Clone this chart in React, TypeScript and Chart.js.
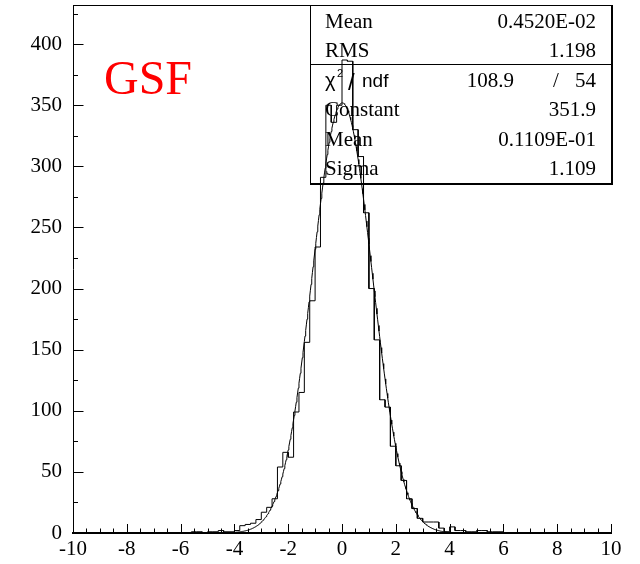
import React, { useEffect, useRef } from "react";
import { Chart, registerables } from "chart.js";

Chart.register(...registerables);

// Histogram definition: 100 bins of width 0.2 over [-10, 10]
const X_MIN = -10;
const X_MAX = 10;
const BIN_WIDTH = 0.2;
const Y_MAX = 432;

// bin counts, bin i covers [-10 + 0.2 i, -9.8 + 0.2 i]
const counts: number[] = [
  0, 0, 0, 0, 0, 0, 0, 0, 0, 0,
  0, 0, 0, 0, 0, 0, 0, 0, 0, 0,
  0, 0, 1, 1, 0, 1, 1, 2, 1, 1,
  2, 6, 7, 8, 11, 17, 21, 28, 54, 66,
  62, 99, 115, 156, 190, 234, 291, 350, 336, 350,
  387, 386, 330, 308, 262, 200, 158, 109, 103, 71,
  55, 43, 28, 20, 12, 9, 9, 9, 4, 1,
  5, 2, 2, 1, 1, 2, 2, 1, 1, 1,
  0, 0, 0, 0, 0, 0, 0, 0, 0, 0,
  0, 0, 0, 0, 0, 0, 0, 0, 0, 0,
];

const xTickValues = [-10, -8, -6, -4, -2, 0, 2, 4, 6, 8, 10];
const yTickValues = [0, 50, 100, 150, 200, 250, 300, 350, 400];

// Gaussian fit parameters (from the stats box)
const fitConstant = 351.9;
const fitMean = 0.01109;
const fitSigma = 1.109;

const statsTop = [
  ["Mean", "0.4520E-02"],
  ["RMS", "1.198"],
];
const chi2Value = "108.9";
const ndfValue = "54";
const statsFit = [
  ["Constant", "351.9"],
  ["Mean", "0.1109E-01"],
  ["Sigma", "1.109"],
];
const titleText = "GSF";

const SERIF = "'Liberation Serif', 'Times New Roman', serif";
const SANS = "'Liberation Sans', Arial, sans-serif";

function buildHistPoints() {
  const pts: { x: number; y: number }[] = [];
  counts.forEach((c, i) => {
    const lo = X_MIN + i * BIN_WIDTH;
    const hi = lo + BIN_WIDTH;
    pts.push({ x: lo, y: c });
    pts.push({ x: hi, y: c });
  });
  return pts;
}

function buildFitPoints() {
  const pts: { x: number; y: number }[] = [];
  const n = 800;
  for (let k = 0; k <= n; k++) {
    const x = X_MIN + ((X_MAX - X_MIN) * k) / n;
    const z = (x - fitMean) / fitSigma;
    pts.push({ x, y: fitConstant * Math.exp(-0.5 * z * z) });
  }
  return pts;
}

function zeroPadding(s: any) {
  s.paddingTop = 0;
  s.paddingBottom = 0;
  s.paddingLeft = 0;
  s.paddingRight = 0;
}

const decorPlugin = {
  id: "rootDecor",
  afterDatasetsDraw(chart: any) {
    const { ctx, chartArea: a, scales } = chart;
    const xs = scales.x;
    const ys = scales.y;
    ctx.save();
    ctx.strokeStyle = "#000";
    ctx.lineWidth = 1;
    // frame top
    ctx.beginPath();
    ctx.moveTo(a.left, a.top + 0.5);
    ctx.lineTo(a.right, a.top + 0.5);
    ctx.stroke();

    // x ticks (inside)
    for (let v = X_MIN; v <= X_MAX + 1e-9; v += 0.5) {
      const px = Math.round(xs.getPixelForValue(v)) + 0.5;
      const major = Math.abs(v / 2 - Math.round(v / 2)) < 1e-6;
      const len = major ? 9 : 4.5;
      ctx.beginPath();
      ctx.moveTo(px, a.bottom);
      ctx.lineTo(px, a.bottom - len);
      ctx.stroke();
    }
    // y ticks (inside)
    for (let v = 0; v <= Y_MAX; v += 25) {
      const py = Math.round(ys.getPixelForValue(v)) + 0.5;
      const major = v % 50 === 0;
      const len = major ? 10.5 : 5;
      ctx.beginPath();
      ctx.moveTo(a.left, py);
      ctx.lineTo(a.left + len, py);
      ctx.stroke();
    }

    // Stats box
    const bx0 = 310.5, bx1 = 611.5, by0 = 5.5, by1 = 183.5, sep = 64.5;
    ctx.lineWidth = 1;
    ctx.beginPath();
    ctx.moveTo(bx0, by1);
    ctx.lineTo(bx0, by0);
    ctx.lineTo(bx1, by0);
    ctx.moveTo(bx0, sep);
    ctx.lineTo(bx1, sep);
    ctx.stroke();
    ctx.lineWidth = 2;
    ctx.beginPath();
    ctx.moveTo(bx1 + 0.5, by0 - 0.5);
    ctx.lineTo(bx1 + 0.5, by1 + 0.5);
    ctx.lineTo(bx0 - 0.5, by1 + 0.5);
    ctx.stroke();

    ctx.fillStyle = "#000";
    ctx.textBaseline = "alphabetic";
    ctx.font = `21px ${SERIF}`;
    const labelX = 325;
    const valueX = 596;
    const topBaselines = [28, 57];
    statsTop.forEach(([l, v], i) => {
      ctx.textAlign = "left";
      ctx.fillText(l, labelX, topBaselines[i]);
      ctx.textAlign = "right";
      ctx.fillText(v, valueX, topBaselines[i]);
    });
    // chi2 row
    const chiBase = 87;
    ctx.textAlign = "left";
    ctx.font = `20px ${SANS}`;
    ctx.fillText("\u03c7", labelX, chiBase);
    ctx.font = `11px ${SANS}`;
    ctx.fillText("2", 337, chiBase - 10);
    ctx.font = `24px ${SANS}`;
    ctx.fillText("/", 348, chiBase + 3);
    ctx.font = `19px ${SANS}`;
    ctx.fillText("ndf", 362, chiBase);
    ctx.font = `21px ${SERIF}`;
    ctx.textAlign = "right";
    ctx.fillText(chi2Value, 514, chiBase);
    ctx.textAlign = "center";
    ctx.fillText("/", 556, chiBase);
    ctx.textAlign = "right";
    ctx.fillText(ndfValue, valueX, chiBase);
    const fitBaselines = [116, 146, 175];
    statsFit.forEach(([l, v], i) => {
      ctx.textAlign = "left";
      ctx.fillText(l, labelX, fitBaselines[i]);
      ctx.textAlign = "right";
      ctx.fillText(v, valueX, fitBaselines[i]);
    });

    // GSF label
    ctx.fillStyle = "#ff0000";
    ctx.textAlign = "left";
    ctx.font = `48px ${SERIF}`;
    ctx.fillText(titleText, 104, 94);
    ctx.restore();
  },
};

export default function App() {
  const ref = useRef<HTMLCanvasElement | null>(null);
  useEffect(() => {
    if (!ref.current) return;
    const chart = new Chart(ref.current, {
      type: "line",
      data: {
        datasets: [
          {
            label: "hist",
            data: buildHistPoints(),
            borderColor: "#000",
            borderWidth: 1,
            pointRadius: 0,
            tension: 0,
            fill: false,
          },
          {
            label: "fit",
            data: buildFitPoints(),
            borderColor: "#000",
            borderWidth: 1,
            pointRadius: 0,
            tension: 0,
            fill: false,
          },
        ],
      },
      options: {
        animation: false,
        responsive: false,
        devicePixelRatio: 1,
        parsing: false as any,
        layout: { padding: { top: 5, right: 29, left: 0, bottom: 0 } },
        plugins: { legend: { display: false }, tooltip: { enabled: false } },
        scales: {
          x: {
            type: "linear",
            min: X_MIN,
            max: X_MAX,
            afterFit: (s: any) => {
              s.height = 31;
              zeroPadding(s);
            },
            afterBuildTicks: (s: any) => {
              s.ticks = xTickValues.map((v) => ({ value: v }));
            },
            grid: { display: false, drawTicks: false },
            border: { display: true, color: "#000", width: 2 },
            ticks: {
              autoSkip: false,
              maxRotation: 0,
              padding: 4,
              color: "#000",
              font: { family: SERIF, size: 21 },
              callback: (v: any) => String(v),
            },
          },
          y: {
            type: "linear",
            min: 0,
            max: Y_MAX,
            afterFit: (s: any) => {
              s.width = 73;
              zeroPadding(s);
            },
            afterBuildTicks: (s: any) => {
              s.ticks = yTickValues.map((v) => ({ value: v }));
            },
            grid: { display: false, drawTicks: false },
            border: { display: true, color: "#000", width: 1 },
            ticks: {
              padding: 11,
              color: "#000",
              font: { family: SERIF, size: 21 },
              callback: (v: any) => String(v),
            },
          },
        },
      },
      plugins: [decorPlugin],
    });
    return () => chart.destroy();
  }, []);
  return (
    <div style={{ position: "fixed", left: 0, top: 0, width: 640, height: 564, background: "#fff" }}>
      <canvas ref={ref} width={640} height={564} style={{ width: 640, height: 564, display: "block" }} />
    </div>
  );
}
